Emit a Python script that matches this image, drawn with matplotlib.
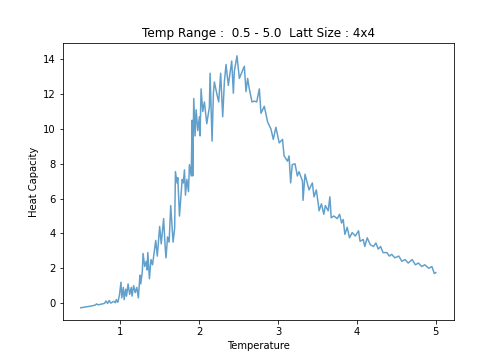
import matplotlib
matplotlib.use("Agg")
import matplotlib.pyplot as plt

# temperatures and heat capacity values
temps = [0.50, 0.56, 0.62, 0.68, 0.70, 0.72, 0.76, 0.80, 0.82, 0.84, 0.86, 0.88, 0.90, 0.92, 0.94,
         0.95, 0.97, 0.99, 1.01, 1.02, 1.04, 1.05, 1.07, 1.08, 1.10, 1.12, 1.14, 1.15, 1.17, 1.19,
         1.21, 1.23, 1.25, 1.26, 1.28, 1.29, 1.31, 1.33, 1.34, 1.35, 1.37, 1.39, 1.41, 1.43, 1.45,
         1.47, 1.50, 1.52, 1.55, 1.57, 1.58, 1.60, 1.62, 1.64, 1.65, 1.67, 1.69, 1.70, 1.72, 1.73,
         1.751, 1.785, 1.80, 1.814, 1.827, 1.845, 1.865, 1.877, 1.90, 1.911, 1.919, 1.932, 1.949,
         1.962, 1.983, 2.004, 2.012, 2.025, 2.046, 2.067, 2.097, 2.13, 2.139, 2.164, 2.181, 2.193,
         2.223, 2.248, 2.273, 2.299, 2.32, 2.341, 2.37, 2.413, 2.434, 2.446, 2.48, 2.51, 2.573,
         2.594, 2.615, 2.636, 2.67, 2.70, 2.73, 2.763, 2.784, 2.826, 2.868, 2.91, 2.94, 2.973,
         3.015, 3.057, 3.077, 3.12, 3.14, 3.16, 3.18, 3.215, 3.245, 3.266, 3.31, 3.317, 3.342,
         3.393, 3.435, 3.456, 3.485, 3.51, 3.52, 3.55, 3.58, 3.60, 3.636, 3.657, 3.674, 3.708,
         3.75, 3.78, 3.805, 3.826, 3.847, 3.876, 3.906, 3.94, 3.98, 4.02, 4.04, 4.08, 4.10, 4.13,
         4.17, 4.21, 4.24, 4.27, 4.30, 4.33, 4.38, 4.41, 4.44, 4.48, 4.53, 4.57, 4.61, 4.65, 4.70,
         4.74, 4.78, 4.82, 4.86, 4.91, 4.95, 4.98, 5.00]
heat_cap = [-0.27, -0.22, -0.18, -0.12, -0.05, -0.10, -0.06, -0.02, 0.12, -0.02, 0.15, 0.0, 0.05, 0.10, 0.02,
            0.20, 0.05, 0.45, 1.2, 0.3, 0.9, 0.2, 0.8, 0.4, 1.1, 0.5, 0.9, 0.4, 1.0, 0.6,
            0.9, 0.3, 1.6, 1.1, 1.8, 2.85, 2.1, 2.4, 1.9, 2.9, 1.4, 2.5, 2.2, 2.9, 3.6,
            2.7, 4.4, 3.4, 4.85, 3.2, 2.6, 3.8, 3.5, 5.6, 4.9, 3.5, 4.3, 7.55, 6.9, 7.2,
            5.0, 7.1, 6.9, 7.65, 6.2, 7.1, 6.4, 7.95, 7.3, 10.5, 7.3, 11.75, 9.6,
            11.1, 9.9, 10.7, 9.6, 12.3, 11.0, 11.55, 10.3, 11.25, 13.2, 9.3, 12.05, 12.7,
            12.05, 11.55, 13.2, 10.7, 12.7, 13.7, 12.5, 13.9, 12.05, 13.3, 14.2, 12.9, 13.6,
            12.15, 12.9, 12.3, 11.55, 11.6, 11.55, 12.3, 10.9, 11.3, 10.4, 10.0, 9.4, 10.1,
            9.2, 9.4, 8.45, 8.15, 8.45, 6.9, 7.95, 8.0, 7.3, 7.55, 7.0, 5.9, 7.4,
            6.5, 6.9, 6.1, 6.5, 5.7, 5.3, 5.7, 5.1, 5.6, 5.3, 6.1, 4.9, 5.0,
            4.85, 5.1, 4.6, 4.8, 3.95, 4.35, 3.75, 4.05, 3.85, 4.15, 3.55, 3.65, 3.25, 3.75,
            3.35, 3.25, 3.45, 3.1, 3.25, 2.9, 2.9, 2.7, 2.8, 2.6, 2.7, 2.4, 2.5, 2.3, 2.5,
            2.2, 2.3, 2.1, 2.2, 2.0, 2.1, 1.7, 1.75]

fig = plt.figure(figsize=(7, 5), dpi=72)
plt.plot(temps, heat_cap, alpha=0.7)
plt.title("Temp Range :  0.5 - 5.0  Latt Size : 4x4")
plt.xlabel("Temperature")
plt.ylabel("Heat Capacity")
plt.savefig("out.png", dpi=72)
